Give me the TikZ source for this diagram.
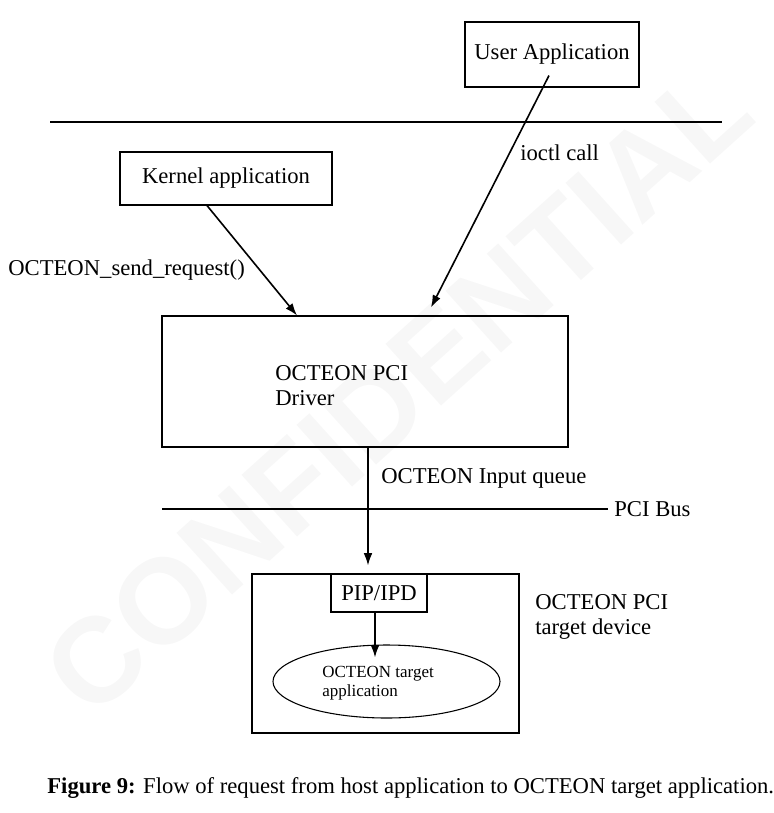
\documentclass[tikz,border=0pt]{standalone}
\usepackage{fontspec}
\setmainfont{Liberation Serif}
\newfontfamily\marksans{Liberation Sans}
\usetikzlibrary{arrows.meta,calc,shapes.geometric}
\newlength{\pxu}
\setlength{\pxu}{0.53pt}

\begin{document}
\begin{tikzpicture}[x = 0.53pt, y = -0.53pt,
  box/.style = {draw, line width = .2mm, inner sep = 0pt, font = \fontsize{12}{13.3}\selectfont},
  flow/.style = {-{Latex[length = 6.5pt, width = 4.6pt]}, line width = .3mm},
  lbl/.style = {inner sep = 0pt, font = \fontsize{12}{13.3}\selectfont, align = left}]

  \useasboundingbox (0, 0) rectangle (773, 813);

  %%watermark
  \node[text = black!3, rotate = 42,
    font = \marksans\bfseries\fontsize{64}{64}\selectfont] (mark) at (398, 390) {CONFIDENTIAL};

  %%user space
  \node[box, minimum width = 174\pxu, minimum height = 65\pxu] (user) at (552, 54.5) {User Application};
  \draw[line width = .2mm] (50, 122) to (722, 122);

  %%kernel
  \node[box, minimum width = 212\pxu, minimum height = 53\pxu] (kernel) at (226, 178.5) {Kernel application};
  \node[lbl, anchor = base west] (send) at (8, 275) {OCTEON\_send\_request()};
  \node[lbl, anchor = base west] (ioctl) at (520, 160) {ioctl call};

    \node[box, minimum width = 406\pxu, minimum height = 131\pxu] (driver) at (365, 381.5) {};
      \node[lbl, anchor = north west] (drvtext) at (275, 365) {OCTEON PCI\\Driver};

    \draw[flow] ($(kernel.south)+(-19, 0)$) to ($(driver.north)+(-68, 0)$);
    \draw[flow] ($(user.south)+(-3, -12)$) to ($(driver.north)+(66, -8)$);

  %%pci bus
  \node[lbl, anchor = base west] (queue) at (381, 483) {OCTEON Input queue};
  \node[lbl, anchor = west, inner xsep = 6\pxu] (bus) at (608, 509) {PCI Bus};
  \coordinate (busend) at (162, 509);
  \draw[line width = .2mm] (busend) to (bus.west);

  %%target
  \node[box, minimum width = 267\pxu, minimum height = 159\pxu] (device) at (385.5, 653.5) {};
  \node[lbl, anchor = north west] (devtext) at (535, 594) {OCTEON PCI\\target device};
    \node[box, fill = white, minimum width = 96\pxu, minimum height = 38\pxu] (pip) at (379, 593) {PIP/IPD};
    \node[box, ellipse, minimum width = 227\pxu, minimum height = 73\pxu] (app) at (386.5, 681.5) {};
      \node[lbl, anchor = north west, font = \fontsize{9}{10}\selectfont] (apptext) at (322, 666) {OCTEON target\\application};

    \draw[flow] ($(driver.south)+(3, 0)$) to ($(device.north)+(-17.5, -8)$);
    \draw[flow] ($(pip.south)+(-4, 0)$) to ($(app.north)+(-11.5, 13)$);

  %%caption
  \node[lbl, anchor = base west] (caption) at (47, 793) {\textbf{Figure 9:} Flow of request from host application to OCTEON target application.};

\end{tikzpicture}
\end{document}
